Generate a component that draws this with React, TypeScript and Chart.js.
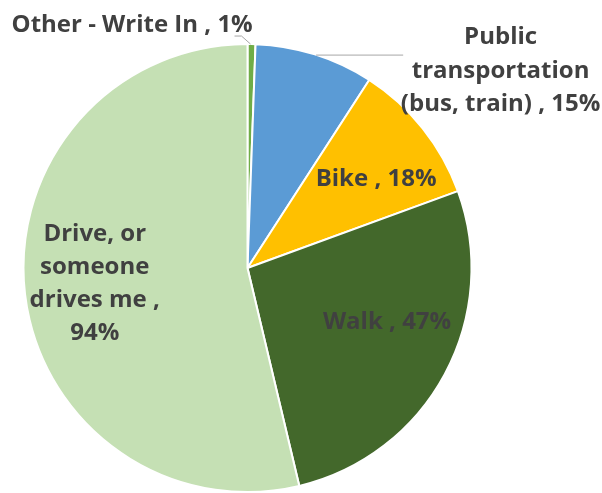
import React, { useEffect, useRef } from "react";
import { Chart, registerables } from "chart.js";

Chart.register(...registerables);

const categories = ["Other - Write In", "Public transportation (bus, train)", "Bike", "Walk", "Drive, or someone drives me"];
const values = [1, 15, 18, 47, 94];
const labelTexts = [
  ["Other - Write In , 1%"],
  ["Public", "transportation", "(bus, train) , 15%"],
  ["Bike , 18%"],
  ["Walk , 47%"],
  ["Drive, or", "someone", "drives me ,", "94%"],
];
const colors = ["#70AD47", "#5B9BD5", "#FFC000", "#43682B", "#C5E0B4"];

// label anchor, in units of the pie radius relative to its center
const labelPos: [number, number][] = [
  [-0.515, -1.084],
  [1.13, -0.88],
  [0.574, -0.395],
  [0.623, 0.242],
  [-0.682, 0.07],
];

const labelPlugin = {
  id: "pieLabels",
  afterDatasetsDraw(chart: any) {
    const ctx = chart.ctx;
    const meta = chart.getDatasetMeta(0);
    const arc0 = meta.data[0];
    const cx = arc0.x;
    const cy = arc0.y;
    const R = arc0.outerRadius;
    ctx.save();
    ctx.strokeStyle = "#A6A6A6";
    ctx.lineWidth = 1;
    // Other
    {
      const a = meta.data[0];
      const mid = (a.startAngle + a.endAngle) / 2;
      const ex = cx + Math.cos(mid) * R;
      const ey = cy + Math.sin(mid) * R;
      ctx.beginPath();
      ctx.moveTo(ex - 1, ey);
      ctx.lineTo(ex - 10, ey - 8);
      ctx.lineTo(ex - 17, ey - 8);
      ctx.stroke();
    }
    // Public
    {
      const a = meta.data[1];
      const ang = a.startAngle + (a.endAngle - a.startAngle) * 0.52;
      const ex = cx + Math.cos(ang) * R;
      const ey = cy + Math.sin(ang) * R;
      ctx.beginPath();
      ctx.moveTo(ex - 1, ey);
      ctx.lineTo(cx + R * 0.695, ey);
      ctx.stroke();
    }
    ctx.fillStyle = "#404040";
    ctx.font = "bold 24px 'Open Sans'";
    ctx.textAlign = "center";
    ctx.textBaseline = "middle";
    const lh = 33.3;
    labelTexts.forEach((lines, i) => {
      const [fx, fy] = labelPos[i];
      const x = cx + fx * R;
      const y = cy + fy * R;
      const y0 = y - ((lines.length - 1) * lh) / 2;
      lines.forEach((ln, j) => ctx.fillText(ln, x, y0 + j * lh));
    });
    ctx.restore();
  },
};

export default function App() {
  const ref = useRef<HTMLCanvasElement>(null);
  useEffect(() => {
    document.body.style.margin = "0";
    const chart = new Chart(ref.current!, {
      type: "pie",
      data: {
        labels: categories,
        datasets: [
          {
            data: values,
            backgroundColor: colors,
            borderColor: "#FFFFFF",
            borderWidth: 2,
          },
        ],
      },
      options: {
        animation: false,
        responsive: false,
        layout: { padding: { left: 22, right: 129, top: 43, bottom: 0 } },
        plugins: { legend: { display: false }, tooltip: { enabled: false } },
      },
      plugins: [labelPlugin],
    });
    return () => chart.destroy();
  }, []);
  return (
    <div style={{ width: 602, height: 493, background: "#fff" }}>
      <canvas ref={ref} width={602} height={493} />
    </div>
  );
}
